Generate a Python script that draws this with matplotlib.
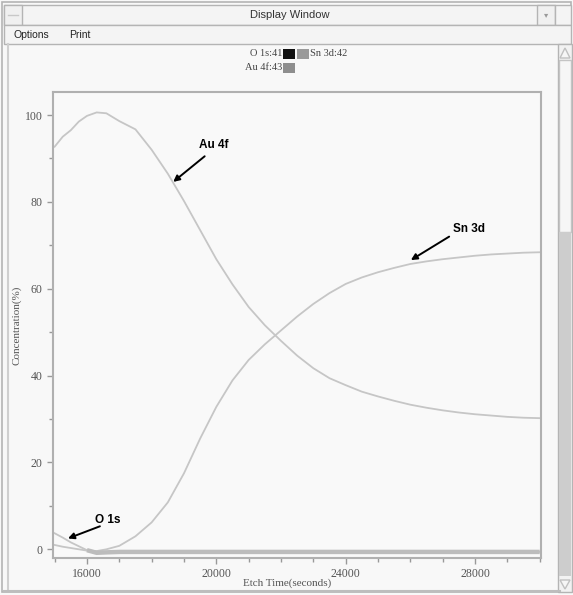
import matplotlib
matplotlib.use("Agg")
import matplotlib.pyplot as plt
from matplotlib.patches import Rectangle, Polygon
import numpy as np

# ---- data ----
time_s = [15000, 15250, 15500, 15750, 16000, 16300, 16600, 17000, 17500, 18000,
          18500, 19000, 19500, 20000, 20500, 21000, 21500, 22000, 22500, 23000,
          23500, 24000, 24500, 25000, 25500, 26000, 26500, 27000, 27500, 28000,
          28500, 29000, 29500, 30000]
au_4f = [92.7, 95.0, 96.5, 98.5, 99.8, 100.6, 100.4, 98.6, 96.7, 92.0,
         86.5, 80.2, 73.5, 66.8, 61.0, 55.8, 51.6, 48.0, 44.6, 41.7,
         39.4, 37.8, 36.3, 35.2, 34.2, 33.3, 32.6, 32.0, 31.5, 31.1,
         30.8, 30.5, 30.3, 30.2]
sn_3d = [1.0, 0.6, 0.3, 0.0, -0.3, -0.4, 0.0, 0.8, 3.0, 6.2,
         10.8, 17.5, 25.5, 32.8, 38.9, 43.6, 47.2, 50.4, 53.6, 56.5,
         59.0, 61.1, 62.6, 63.8, 64.8, 65.7, 66.3, 66.8, 67.2, 67.6,
         67.9, 68.1, 68.3, 68.4]
o_1s = [3.7, 2.7, 1.6, 0.7, -0.2, -0.8, -0.7, -0.6, -0.6, -0.6,
        -0.6, -0.6, -0.6, -0.6, -0.6, -0.6, -0.6, -0.6, -0.6, -0.6,
        -0.6, -0.6, -0.6, -0.6, -0.6, -0.6, -0.6, -0.6, -0.6, -0.6,
        -0.6, -0.6, -0.6, -0.6]
x_major = [16000, 20000, 24000, 28000]
y_major = [0, 20, 40, 60, 80, 100]
legend_labels = ["O 1s:41", "Sn 3d:42", "Au 4f:43"]
annot_labels = ["Au 4f", "Sn 3d", "O 1s"]

W, H = 573, 595
fig = plt.figure(figsize=(W / 100, H / 100), dpi=100)
fig.patch.set_facecolor("#f8f8f8")

# ---- window chrome (pixel coords) ----
bg = fig.add_axes([0, 0, 1, 1])
bg.set_xlim(0, W)
bg.set_ylim(H, 0)
bg.axis("off")
edge = "#b4b4b4"
bg.add_patch(Rectangle((2, 2), W - 4, H - 5, fill=False, ec=edge, lw=1.2))
bg.add_patch(Rectangle((4, 5), 551, 20, fc="#f4f4f4", ec=edge, lw=1))
bg.add_patch(Rectangle((4, 5), 18, 20, fc="#f0f0f0", ec=edge, lw=1))
bg.plot([8, 18], [15, 15], color="#c8c8c8", lw=1)
bg.add_patch(Rectangle((537, 5), 18, 20, fc="#f0f0f0", ec=edge, lw=1))
bg.text(546, 15, "▾", ha="center", va="center", fontsize=6, color="#999999")
bg.add_patch(Rectangle((555, 5), 16, 20, fc="#f4f4f4", ec=edge, lw=1))
bg.text(290, 15, "Display Window", ha="center", va="center", fontsize=8,
        family="Liberation Sans", color="#333333")
bg.add_patch(Rectangle((4, 25), 567, 19, fc="#f4f4f4", ec=edge, lw=1))
bg.text(13, 35, "Options", ha="left", va="center", fontsize=7.5,
        family="Liberation Sans", color="#222222")
bg.text(69, 35, "Print", ha="left", va="center", fontsize=7.5,
        family="Liberation Sans", color="#222222")
bg.plot([8, 8], [44, 591], color="#cfcfcf", lw=1.5)
bg.plot([4, 560], [591, 591], color="#bdbdbd", lw=1.5)
bg.add_patch(Rectangle((558, 44), 14, 548, fc="#f2f2f2", ec=edge, lw=1))
bg.add_patch(Rectangle((559, 60), 12, 172, fc="#f6f6f6", ec="#c4c4c4", lw=1))
bg.add_patch(Rectangle((559, 232), 12, 344, fc="#cdcdcd", ec="none"))
bg.add_patch(Polygon([[560, 58], [570, 58], [565, 48]], closed=True,
                     fc="#f6f6f6", ec="#c0c0c0", lw=1))
bg.add_patch(Polygon([[560, 580], [570, 580], [565, 589]], closed=True,
                     fc="#f6f6f6", ec="#c0c0c0", lw=1))

# ---- legend (pixel coords) ----
bg.text(282, 54, legend_labels[0], ha="right", va="center", fontsize=7.5,
        family="Liberation Serif", color="#444444")
bg.add_patch(Rectangle((283, 49), 12, 10, fc="#111111", ec="none"))
bg.add_patch(Rectangle((297, 49), 12, 10, fc="#9a9a9a", ec="none"))
bg.text(310, 54, legend_labels[1], ha="left", va="center", fontsize=7.5,
        family="Liberation Serif", color="#444444")
bg.text(282, 68, legend_labels[2], ha="right", va="center", fontsize=7.5,
        family="Liberation Serif", color="#444444")
bg.add_patch(Rectangle((283, 63), 12, 10, fc="#8e8e8e", ec="none"))

# ---- plot axes ----
left, right, top, bottom = 53, 541, 92, 558
ax = fig.add_axes([left / W, 1 - bottom / H, (right - left) / W, (bottom - top) / H])
ax.set_facecolor("#f9f9f9")
ax.set_xlim(14950, 30040)
ax.set_ylim(-2.0, 105.3)

line_c = "#c6c6c6"
ax.plot(time_s, au_4f, color=line_c, lw=1.3)
ax.plot(time_s, sn_3d, color=line_c, lw=1.3)
ax.plot(time_s, o_1s, color=line_c, lw=1.3)
t_arr = np.array(time_s)
o_arr = np.array(o_1s, dtype=float)
mask = t_arr >= 16000
ax.plot(t_arr[mask], o_arr[mask], color="#bcbcbc", lw=3.2, solid_capstyle="butt")

for s in ax.spines.values():
    s.set_color("#b0b0b0")
    s.set_linewidth(1.5)

ax.set_xticks(x_major)
ax.set_xticks(np.arange(15000, 30001, 1000), minor=True)
ax.set_yticks(y_major)
ax.set_yticks(np.arange(10, 101, 20), minor=True)
ax.set_xticklabels([str(v) for v in x_major])
ax.set_yticklabels([str(v) for v in y_major])
ax.tick_params(axis="both", which="both", direction="out", color="#999999",
               labelcolor="#555555", labelsize=8.5, width=1)
ax.tick_params(axis="both", which="major", length=4)
ax.tick_params(axis="both", which="minor", length=3)
for lab in ax.get_xticklabels() + ax.get_yticklabels():
    lab.set_family("Liberation Serif")

ax.set_xlabel("Etch Time(seconds)", family="Liberation Serif", fontsize=8,
              color="#555555")
ax.set_ylabel("Concentration(%)", family="Liberation Serif", fontsize=8,
              color="#555555")
ax.xaxis.set_label_coords(0.48, -0.043)
ax.yaxis.set_label_coords(-0.064, 0.5)

# ---- annotations ----
akw = dict(arrowstyle="-|>", color="black", lw=1.4, mutation_scale=9,
           shrinkA=0, shrinkB=0)
fkw = dict(family="Liberation Sans", fontweight="bold", fontsize=8.5, color="black")
ax.text(19480, 93.2, annot_labels[0], ha="left", va="center", **fkw)
ax.annotate("", xy=(18667, 84.6), xytext=(19640, 90.5), arrowprops=akw)
ax.text(27330, 73.7, annot_labels[1], ha="left", va="center", **fkw)
ax.annotate("", xy=(26016, 66.6), xytext=(27200, 72.0), arrowprops=akw)
ax.text(16250, 6.8, annot_labels[2], ha="left", va="center", **fkw)
ax.annotate("", xy=(15412, 2.5), xytext=(16400, 5.3), arrowprops=akw)

fig.savefig("out.png", dpi=100, facecolor=fig.get_facecolor())
